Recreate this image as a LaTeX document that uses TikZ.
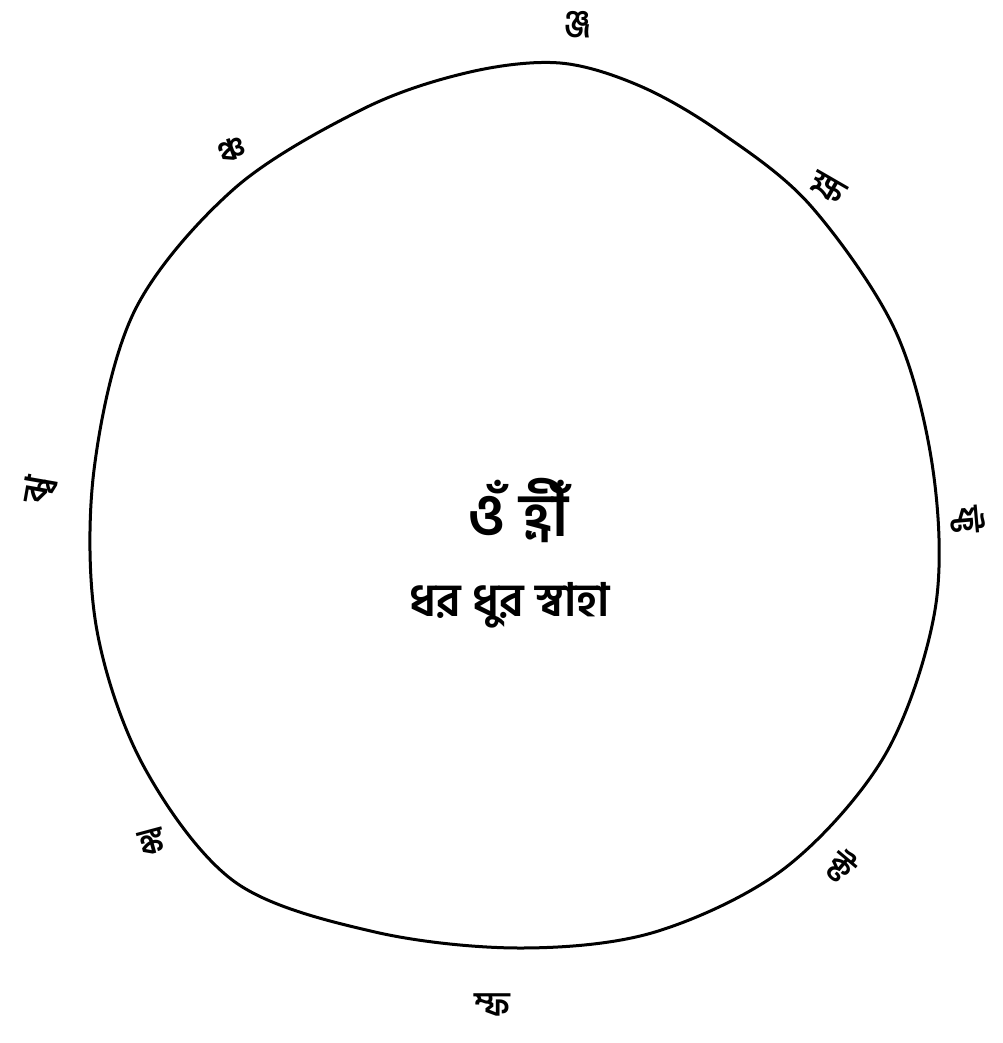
\documentclass[tikz,border=0pt]{standalone}
\usepackage{fontspec}
\newfontfamily\bn[Script=Bengali]{Hind Siliguri}
\begin{document}
\begin{tikzpicture}[x=1pt,y=-1pt,
  lbl/.style={font=\bn\fontsize{33}{33}\selectfont\bfseries, inner sep=0pt},
  ring/.style={line width=3pt, line join=round}]
\useasboundingbox (0,0) rectangle (1002,1043);
\draw[ring] plot[smooth cycle, tension=0.55] coordinates {
 (560,63) (640,86) (720,132) (810,205) (895,330) (933,470) (935,610) (885,755)
 (785,868) (655,932) (520,948) (375,932) (235,882) (143,765) (96,625)
 (94,470) (135,310) (235,188) (365,108) (470,72)};
\node[lbl] (t)  at (578,25)  {ঞ্জ};
\node[lbl,rotate=20] (ul) at (232,150) {ঞ্চ};
\node[lbl,rotate=-30] (ur) at (828,188) {ক্ষ};
\node[lbl,rotate=80] (l)  at (40,490)  {ঝ্ব};
\node[lbl,rotate=-85] (r)  at (968,520) {ফ্ট};
\node[lbl,rotate=15] (ll) at (152,842) {ঙ্ক};
\node[lbl,rotate=-40] (lr) at (842,866) {ক্ট};
\node[lbl] (b)  at (492,1005) {ম্ফ};
\node[font=\bn\fontsize{60}{60}\selectfont\bfseries, inner sep=0pt] (c1) at (518,510) {ওঁ হ্রীঁ};
\node[font=\bn\fontsize{46}{46}\selectfont\bfseries, inner sep=0pt] (c2) at (510,605) {ধর ধুর স্বাহা};
\end{tikzpicture}
\end{document}
